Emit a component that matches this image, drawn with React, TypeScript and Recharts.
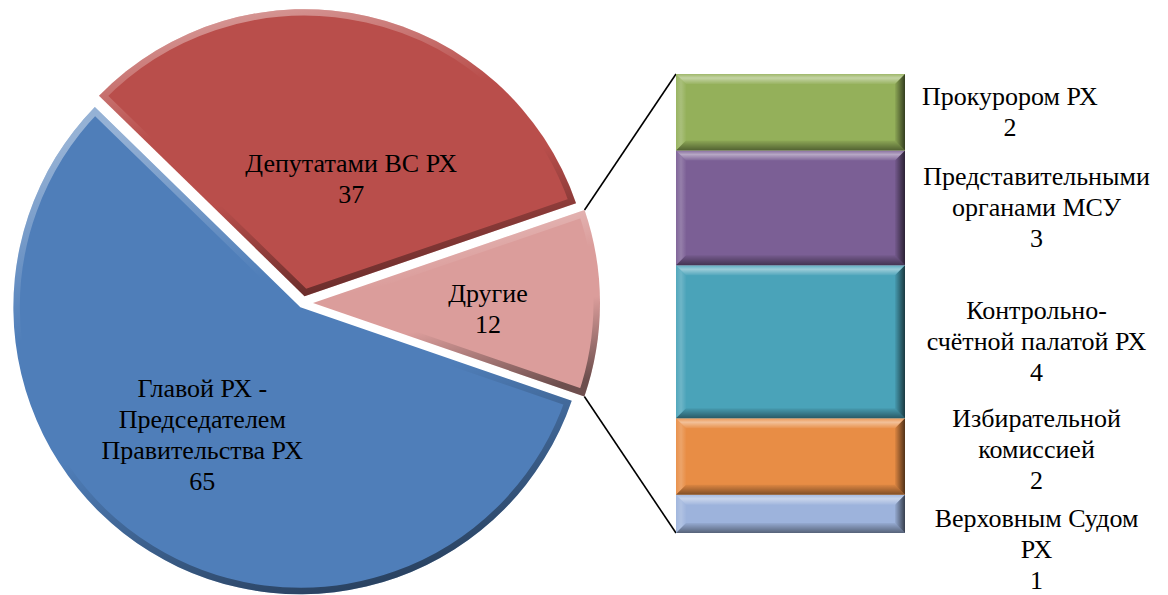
import React from 'react';
import { PieChart, Pie, BarChart, Bar, XAxis, YAxis, LabelList, Sector } from 'recharts';

// pie: share of initiatives by subject
const pieNames = ['Другие', 'Депутатами ВС РХ', 'Главой РХ -\nПредседателем\nПравительства РХ'];
const pieValues = [12, 37, 65];

// stacked bar, bottom to top: breakdown of "Другие"
const barNames = [
  'Верховным Судом\nРХ',
  'Избирательной\nкомиссией',
  'Контрольно-\nсчётной палатой РХ',
  'Представительными\nорганами МСУ',
  'Прокурором РХ',
];
const barKeys = ['court', 'election', 'audit', 'msu', 'prosecutor'];
const barValues = [1, 2, 4, 3, 2];

const PIE_COLORS = ['#DB9D9B', '#B94E4B', '#4F7EB9'];
const BAR_COLORS = ['#9DB3DC', '#E88D45', '#4AA3B9', '#7B5F95', '#94B05A'];
const EXPLODE = [10, 7, 5];
// label placement inside slices: radius fraction and angle shift from mid-angle
const LABEL_R = [0.61, 0.44, 0.56];
const LABEL_DA = [-2, -9, -6];
const LABEL_NUDGE = [36, -7, 0, 0, 0];

const W = 1168;
const H = 595;
const BAR_M = { top: 74, bottom: 62, left: 676, right: 263 };
const FONT = '"Liberation Serif", "Times New Roman", serif';
const FS = 26;
const LH = 31;
const RAD = Math.PI / 180;

const pieData = pieNames.map((name, i) => ({ name, value: pieValues[i] }));
const barRow: Record<string, any> = { name: 'Другие' };
barKeys.forEach((k, i) => (barRow[k] = barValues[i]));
const barData = [barRow];

let ctx: CanvasRenderingContext2D | null = null;
const measure = (s: string) => {
  if (!ctx) ctx = document.createElement('canvas').getContext('2d');
  if (!ctx) return s.length * FS * 0.5;
  ctx.font = `${FS}px "Liberation Serif"`;
  return ctx.measureText(s).width;
};

const TextBlock = ({ x, y, lines }: { x: number; y: number; lines: string[] }) => (
  <text x={x} y={y} textAnchor="middle" style={{ fontFamily: FONT, fontSize: FS }} fill="#000">
    {lines.map((l, i) => (
      <tspan key={i} x={x} y={y + (i - (lines.length - 1) / 2) * LH} dominantBaseline="central">
        {l}
      </tspan>
    ))}
  </text>
);

const renderSlice = (p: any) => {
  const { cx, cy, outerRadius, startAngle, endAngle, midAngle, index, name, value } = p;
  const off = EXPLODE[index];
  const ox = cx + off * Math.cos(-midAngle * RAD);
  const oy = cy + off * Math.sin(-midAngle * RAD);
  const clipId = `slice-clip-${index}`;
  const lr = outerRadius * LABEL_R[index];
  const la = midAngle + LABEL_DA[index];
  const lx = ox + lr * Math.cos(-la * RAD);
  const ly = oy + lr * Math.sin(-la * RAD);
  const sec = { cx: ox, cy: oy, innerRadius: 0, outerRadius, startAngle, endAngle };
  const hi = Math.max(startAngle, endAngle);
  const lo = Math.min(startAngle, endAngle);
  return (
    <g key={`slice-${index}`}>
      <defs>
        <clipPath id={clipId}>
          <Sector {...sec} />
        </clipPath>
      </defs>
      <Sector {...sec} fill={PIE_COLORS[index]} stroke="none" />
      <g clipPath={`url(#${clipId})`}>
        <Sector {...sec} fill="none" stroke="url(#pieEdge)" strokeWidth={13} />
      </g>
      <TextBlock x={lx} y={ly} lines={[...String(name).split('\n'), String(value)]} />
      {index === 0 && (
        <g stroke="#000" strokeWidth={1.6}>
          <line
            x1={ox + outerRadius * Math.cos(-hi * RAD)}
            y1={oy + outerRadius * Math.sin(-hi * RAD)}
            x2={BAR_M.left}
            y2={BAR_M.top}
          />
          <line
            x1={ox + outerRadius * Math.cos(-lo * RAD)}
            y1={oy + outerRadius * Math.sin(-lo * RAD)}
            x2={BAR_M.left}
            y2={H - BAR_M.bottom}
          />
        </g>
      )}
    </g>
  );
};

const BevelBar = (p: any) => {
  const { x, y, width: w, height: h, fill } = p;
  const b = Math.min(10, h / 2);
  const pts = (a: number[][]) => a.map((q) => q.join(',')).join(' ');
  return (
    <g>
      <rect x={x} y={y} width={w} height={h} fill={fill} />
      <polygon points={pts([[x, y], [x + w, y], [x + w - b, y + b], [x + b, y + b]])} fill="url(#bevTop)" />
      <polygon points={pts([[x, y], [x + b, y + b], [x + b, y + h - b], [x, y + h]])} fill="url(#bevLeft)" />
      <polygon points={pts([[x + w, y], [x + w - b, y + b], [x + w - b, y + h - b], [x + w, y + h]])} fill="url(#bevRight)" />
      <polygon points={pts([[x, y + h], [x + w, y + h], [x + w - b, y + h - b], [x + b, y + h - b]])} fill="url(#bevBottom)" />
    </g>
  );
};

const barLabel = (si: number) => (p: any) => {
  const { x, y, width, height, value } = p;
  const nameLines = barNames[si].split('\n');
  const boxW = nameLines.length > 1 ? 229 : measure(nameLines[0]);
  const cx = x + width + 17 + boxW / 2;
  const cy = y + height / 2 + LABEL_NUDGE[si];
  return <TextBlock x={cx} y={cy} lines={[...nameLines, String(value)]} />;
};

export default function App() {
  return (
    <div style={{ position: 'absolute', left: 0, top: 0, width: W, height: H, background: '#fff' }}>
      <svg width={0} height={0} style={{ position: 'absolute' }}>
        <defs>
          <linearGradient id="pieEdge" x1="0.35" y1="0" x2="0.65" y2="1">
            <stop offset="0%" stopColor="#fff" stopOpacity={0.4} />
            <stop offset="35%" stopColor="#fff" stopOpacity={0} />
            <stop offset="60%" stopColor="#000" stopOpacity={0} />
            <stop offset="100%" stopColor="#000" stopOpacity={0.5} />
          </linearGradient>
          <linearGradient id="bevTop" x1="0" y1="0" x2="0" y2="1">
            <stop offset="0%" stopColor="#fff" stopOpacity={0.1} />
            <stop offset="40%" stopColor="#fff" stopOpacity={0.45} />
            <stop offset="100%" stopColor="#fff" stopOpacity={0.05} />
          </linearGradient>
          <linearGradient id="bevLeft" x1="0" y1="0" x2="1" y2="0">
            <stop offset="0%" stopColor="#fff" stopOpacity={0.05} />
            <stop offset="50%" stopColor="#fff" stopOpacity={0.2} />
            <stop offset="100%" stopColor="#fff" stopOpacity={0.02} />
          </linearGradient>
          <linearGradient id="bevRight" x1="0" y1="0" x2="1" y2="0">
            <stop offset="0%" stopColor="#000" stopOpacity={0.05} />
            <stop offset="100%" stopColor="#000" stopOpacity={0.65} />
          </linearGradient>
          <linearGradient id="bevBottom" x1="0" y1="0" x2="0" y2="1">
            <stop offset="0%" stopColor="#000" stopOpacity={0.05} />
            <stop offset="100%" stopColor="#000" stopOpacity={0.45} />
          </linearGradient>
        </defs>
      </svg>

      <div style={{ position: 'absolute', left: 0, top: 0 }}>
        <PieChart width={W} height={H} margin={{ top: 0, right: 0, bottom: 0, left: 0 }}>
          <Pie
            data={pieData}
            dataKey="value"
            nameKey="name"
            cx={303}
            cy={303}
            outerRadius={287}
            startAngle={-19}
            endAngle={341}
            fill="transparent"
            stroke="none"
            label={renderSlice}
            labelLine={false}
            isAnimationActive={false}
          />
        </PieChart>
      </div>

      <div style={{ position: 'absolute', left: 0, top: 0 }}>
        <BarChart width={W} height={H} data={barData} margin={BAR_M} barCategoryGap={0}>
          <XAxis dataKey="name" hide />
          <YAxis hide domain={[0, 'dataMax']} />
          {barKeys.map((k, i) => (
            <Bar key={k} dataKey={k} stackId="a" fill={BAR_COLORS[i]} shape={BevelBar} isAnimationActive={false}>
              <LabelList dataKey={k} content={barLabel(i)} />
            </Bar>
          ))}
        </BarChart>
      </div>
    </div>
  );
}
